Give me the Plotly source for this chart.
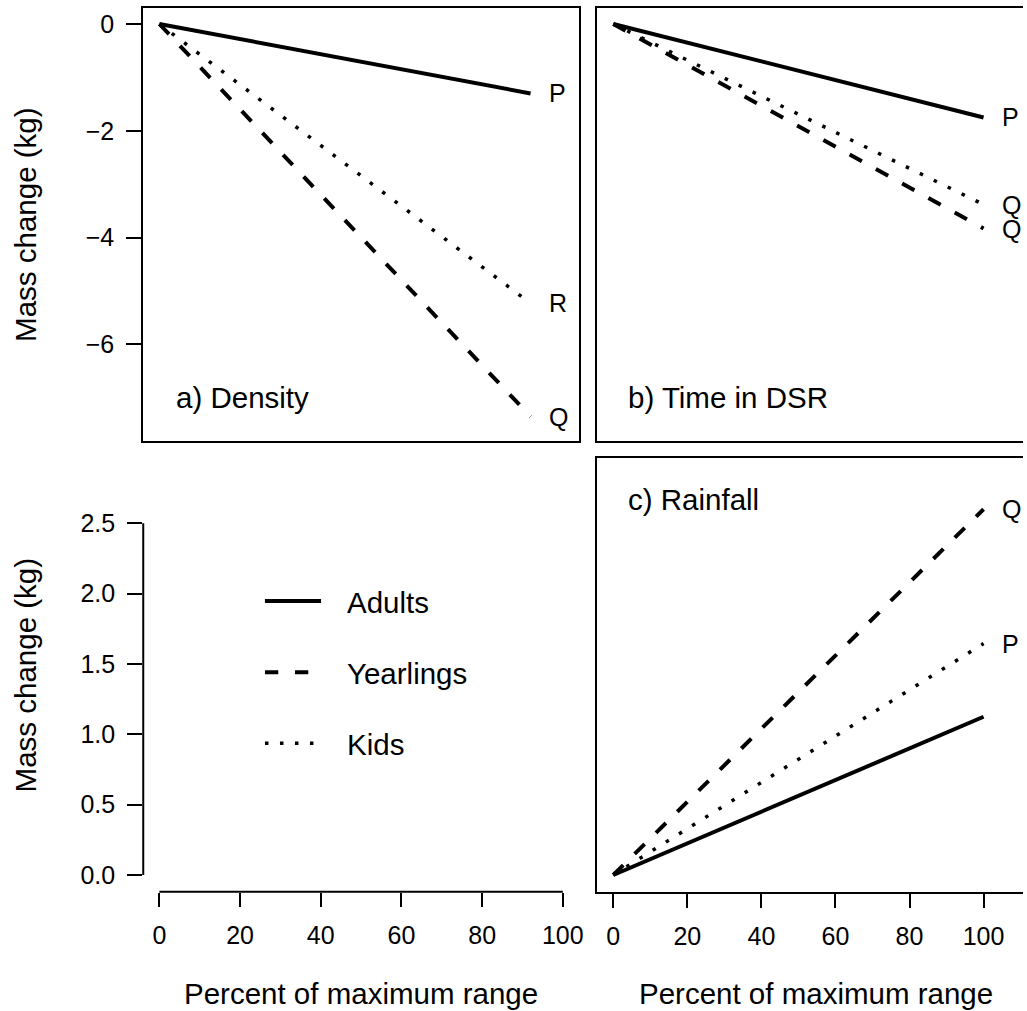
import plotly.graph_objects as go

# ---------------- data ----------------
pct_density = [0, 92]
pct_time = [0, 100]
pct_rain = [0, 100]

density_adults = [0, -1.30]
density_yearlings = [0, -7.35]
density_kids = [0, -5.23]

time_adults = [0, -1.75]
time_yearlings = [0, -3.83]
time_kids = [0, -3.38]

rain_adults = [0, 1.125]
rain_yearlings = [0, 2.60]
rain_kids = [0, 1.645]

density_end_labels = ["P", "Q", "R"]
time_end_labels = ["P", "Q", "Q"]
rain_end_labels = ["", "Q", "P"]

group_names = ["Adults", "Yearlings", "Kids"]
panel_titles = ["a) Density", "b) Time in DSR", "c) Rainfall"]

x_tickvals = [0, 20, 40, 60, 80, 100]
x_ticktext = ["0", "20", "40", "60", "80", "100"]
top_tickvals = [0, -2, -4, -6]
top_ticktext = ["0", "\u22122", "\u22124", "\u22126"]
bottom_tickvals = [0, 0.5, 1.0, 1.5, 2.0, 2.5]
bottom_ticktext = ["0.0", "0.5", "1.0", "1.5", "2.0", "2.5"]

y_title = "Mass change (kg)"
x_title = "Percent of maximum range"

# ---------------- layout geometry (pixels) ----------------
W, H = 1027, 1011
FONT = "Liberation Sans, Arial, Helvetica, sans-serif"
TICK_FS = 25
BIG_FS = 29.5
LW_BOX = 2


def fx(p):
    return p / W


def fy(p):
    return 1 - p / H


left_dom = [fx(143.8), fx(581.7)]
right_dom = [fx(599.3), 1.0]
top_dom = [fy(440.7), fy(8.3)]
bot_dom = [fy(891.7), fy(458.3)]

left_xrange = [-4.0, 104.12]
right_xrange = [-4.41, 110.65]
top_yrange = [-7.803, 0.294]
bot_yrange = [-0.1187, 2.962]

dash_styles = ["solid", "14px,16px", "3.5px,12px"]
line_widths = [4, 4, 3.5]

fig = go.Figure()

panels = [
    ("x", "y", pct_density, [density_adults, density_yearlings, density_kids], density_end_labels),
    ("x2", "y2", pct_time, [time_adults, time_yearlings, time_kids], time_end_labels),
    ("x4", "y4", pct_rain, [rain_adults, rain_yearlings, rain_kids], rain_end_labels),
]

annotations = []
for xa, ya, xs, series, labels in panels:
    for name, ys, dash, lw, lab in zip(group_names, series, dash_styles, line_widths, labels):
        fig.add_trace(go.Scatter(
            x=xs, y=ys, mode="lines", name=name, showlegend=False,
            xaxis=xa, yaxis=ya,
            line=dict(color="black", width=lw, dash=dash),
            hoverinfo="skip",
        ))
        if lab:
            annotations.append(dict(
                x=xs[-1], y=ys[-1], xref=xa, yref=ya, text=lab, showarrow=False,
                xanchor="left", yanchor="middle", xshift=17, borderpad=0,
                font=dict(size=TICK_FS, color="black", family=FONT),
            ))

# panel titles
for (xa, ya), title, ty in zip([("x", "y"), ("x2", "y2"), ("x4", "y4")], panel_titles, [-7.0, -7.0, 2.67]):
    annotations.append(dict(
        x=4, y=ty, xref=xa, yref=ya, text=title, showarrow=False,
        xanchor="left", yanchor="middle", xshift=-2,
        font=dict(size=BIG_FS, color="black", family=FONT),
    ))

# axis titles
for yc in [(8.3 + 440.7) / 2, (458.3 + 891.7) / 2]:
    annotations.append(dict(
        x=fx(25.5), y=fy(yc), xref="paper", yref="paper", text=y_title,
        showarrow=False, textangle=-90, xanchor="center", yanchor="middle",
        font=dict(size=BIG_FS, color="black", family=FONT),
    ))
for xc in [(143.8 + 581.7) / 2, (599.3 + 1038.3) / 2]:
    annotations.append(dict(
        x=fx(xc), y=fy(993), xref="paper", yref="paper", text=x_title,
        showarrow=False, xanchor="center", yanchor="middle",
        font=dict(size=BIG_FS, color="black", family=FONT),
    ))

# manual legend (bottom-left panel)
legend_rows_px = [601, 672.3, 743.3]
legend_dashes = ["solid", "13.3px,16.7px", "3.5px,11.5px"]
shapes = []
for name, ypx, dash, lw in zip(group_names, legend_rows_px, legend_dashes, line_widths):
    shapes.append(dict(
        type="line", xref="paper", yref="paper",
        x0=fx(266), x1=fx(322.3), y0=fy(ypx), y1=fy(ypx),
        line=dict(color="black", width=lw, dash=dash),
    ))
    annotations.append(dict(
        x=fx(346), y=fy(ypx + 1.5), xref="paper", yref="paper", text=name,
        showarrow=False, xanchor="left", yanchor="middle",
        font=dict(size=BIG_FS, color="black", family=FONT),
    ))

# axis lines of the bottom-left (legend) panel, spanning only the tick range
shapes.append(dict(type="line", xref="x3", yref="paper",
                   x0=x_tickvals[0], x1=x_tickvals[-1], y0=bot_dom[0], y1=bot_dom[0],
                   line=dict(color="black", width=LW_BOX)))
shapes.append(dict(type="line", xref="paper", yref="y3",
                   x0=left_dom[0], x1=left_dom[0], y0=bottom_tickvals[0], y1=bottom_tickvals[-1],
                   line=dict(color="black", width=LW_BOX)))

# dummy trace so that the x3/y3 axes exist
fig.add_trace(go.Scatter(x=[None], y=[None], xaxis="x3", yaxis="y3",
                         showlegend=False, hoverinfo="skip"))

common = dict(showgrid=False, zeroline=False, color="black", linecolor="black",
              linewidth=LW_BOX, tickcolor="black", tickwidth=LW_BOX,
              tickfont=dict(size=TICK_FS, color="black", family=FONT), fixedrange=True)

fig.update_layout(
    width=W, height=H, autosize=False,
    margin=dict(l=0, r=0, t=0, b=0, pad=0),
    paper_bgcolor="white", plot_bgcolor="white",
    font=dict(family=FONT, color="black"),
    showlegend=False,
    xaxis=dict(domain=left_dom, range=left_xrange, anchor="y", showline=True, mirror=True,
               ticks="", showticklabels=False, **common),
    yaxis=dict(domain=top_dom, range=top_yrange, anchor="x", showline=True, mirror=True,
               ticks="outside", ticklen=15, tickvals=top_tickvals, ticktext=top_ticktext,
               ticklabelstandoff=7, **common),
    xaxis2=dict(domain=right_dom, range=right_xrange, anchor="y2", showline=True, mirror=True,
                ticks="", showticklabels=False, **common),
    yaxis2=dict(domain=top_dom, range=top_yrange, anchor="x2", showline=True, mirror=False,
                ticks="", showticklabels=False, **common),
    xaxis3=dict(domain=left_dom, range=left_xrange, anchor="y3", showline=False,
                ticks="outside", ticklen=14, tickvals=x_tickvals, ticktext=x_ticktext,
                ticklabelstandoff=7, **common),
    yaxis3=dict(domain=bot_dom, range=bot_yrange, anchor="x3", showline=False,
                ticks="outside", ticklen=15, tickvals=bottom_tickvals, ticktext=bottom_ticktext,
                ticklabelstandoff=7, **common),
    xaxis4=dict(domain=right_dom, range=right_xrange, anchor="y4", showline=True, mirror=True,
                ticks="outside", ticklen=14, tickvals=x_tickvals, ticktext=x_ticktext,
                ticklabelstandoff=7, **common),
    yaxis4=dict(domain=bot_dom, range=bot_yrange, anchor="x4", showline=True, mirror=False,
                ticks="", showticklabels=False, **common),
    annotations=annotations,
    shapes=shapes,
)

fig.write_html("out.html")
